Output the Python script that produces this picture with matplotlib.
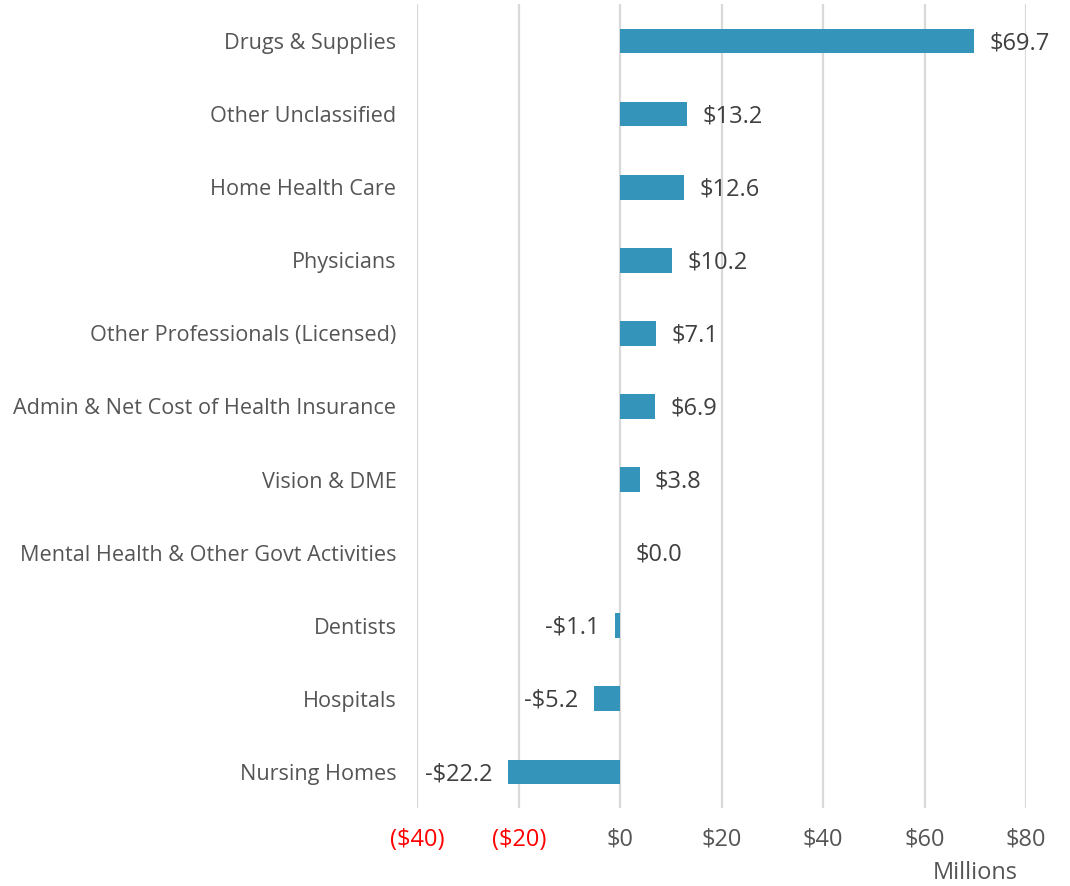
import matplotlib
matplotlib.use("Agg")
import matplotlib.pyplot as plt
import numpy as np

plt.rcParams["font.family"] = ["Open Sans", "DejaVu Sans"]

categories = [
    "Drugs & Supplies",
    "Other Unclassified",
    "Home Health Care",
    "Physicians",
    "Other Professionals (Licensed)",
    "Admin & Net Cost of Health Insurance",
    "Vision & DME",
    "Mental Health & Other Govt Activities",
    "Dentists",
    "Hospitals",
    "Nursing Homes",
]
values = [69.7, 13.2, 12.6, 10.2, 7.1, 6.9, 3.8, 0.0, -1.1, -5.2, -22.2]
xticks = [-40, -20, 0, 20, 40, 60, 80]

BAR = "#3494BA"
LABEL = "#555555"
VALUE = "#3F3F3F"
GRID = "#D9D9D9"

fig = plt.figure(figsize=(10.7, 8.86), dpi=100)
ax = fig.add_axes([0.39, 0.0875, 0.569, 0.9075])

y = np.arange(len(categories))
ax.barh(y, values, height=0.34, color=BAR, zorder=3)

for yi, v in zip(y, values):
    if v < 0:
        txt = f"-${abs(v):.1f}"
        ax.annotate(txt, (v, yi), xytext=(-11, -1.5), textcoords="offset points",
                    ha="right", va="center", fontsize=17, color=VALUE)
    else:
        txt = f"${v:.1f}"
        ax.annotate(txt, (v, yi), xytext=(11, -1.5), textcoords="offset points",
                    ha="left", va="center", fontsize=17, color=VALUE)

ax.set_xlim(-40, 80)
ax.set_ylim(len(categories) - 0.5, -0.5)
ax.set_xticks(xticks)
ax.set_xticklabels([f"(${abs(t)})" if t < 0 else f"${t}" for t in xticks])
for lbl, t in zip(ax.get_xticklabels(), xticks):
    lbl.set_color("#FF0000" if t < 0 else LABEL)
ax.set_yticks(y)
ax.set_yticklabels(categories)

ax.tick_params(axis="x", length=0, pad=14, labelsize=17)
ax.tick_params(axis="y", length=0, pad=15, labelsize=15.6, labelcolor=LABEL)
ax.grid(axis="x", color=GRID, linewidth=1.6, zorder=0)
for s in ax.spines.values():
    s.set_visible(False)

fig.text(0.911, 0.001, "Millions", ha="center", va="bottom", fontsize=17, color=LABEL)

fig.savefig("out.png", dpi=100)
